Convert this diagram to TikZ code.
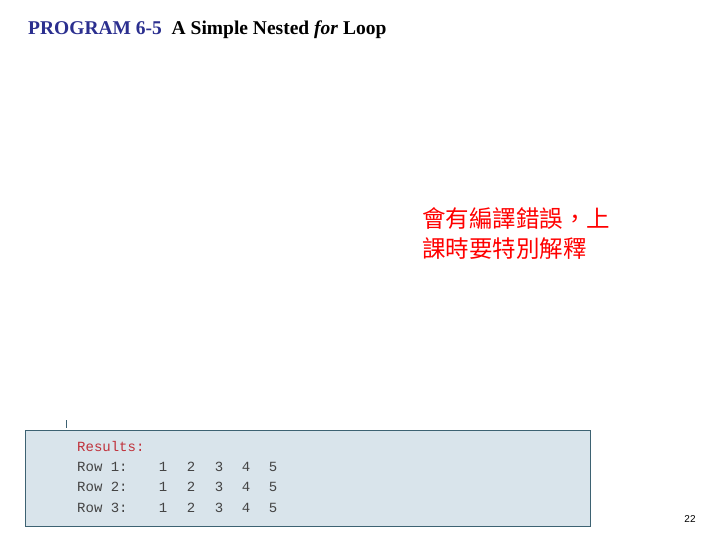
\documentclass[tikz,border=0pt]{standalone}
\usepackage{fontspec}
\setmainfont{Liberation Serif}
\newfontfamily\monof{Liberation Mono}
\newfontfamily\cjk{Noto Sans CJK TC}
\newfontfamily\sansf{Liberation Sans}
\definecolor{titleblue}{HTML}{2B2F8F}
\definecolor{boxfill}{HTML}{D9E4EB}
\definecolor{boxline}{HTML}{3D6272}
\definecolor{resred}{HTML}{C0303A}
\definecolor{mono}{HTML}{444444}
\begin{document}
\begin{tikzpicture}[x=1pt,y=-1pt,
  mt/.style={anchor=base west,inner sep=0pt,font=\monof\fontsize{14}{14}\selectfont,text=mono},
  num/.style={anchor=base,inner sep=0pt,font=\monof\fontsize{14}{14}\selectfont,text=mono}]
\useasboundingbox (0,0) rectangle (720,540);
\node[anchor=base west,inner sep=0pt,font=\bfseries\fontsize{19.5}{20}\selectfont] (title) at (28,35)
  {\textcolor{titleblue}{PROGRAM 6-5}\ \ A Simple Nested \textit{for} Loop};
\node[anchor=base west,inner sep=0pt,align=left,text=red,font=\cjk\fontsize{23.5}{30}\selectfont] (note) at (422,257)
  {會有編譯錯誤，上\\課時要特別解釋};
\draw[boxline] (66,420) -- (66,428);
\node[draw=boxline,line width=1.2pt,fill=boxfill,minimum width=565pt,minimum height=96pt,anchor=north west,inner sep=0pt] (box) at (25,430) {};
\node[mt,text=resred] (res) at (77,451) {Results:};
\foreach \r/\y in {1/471,2/491,3/512}{
  \node[mt] (row\r) at (77,\y) {Row \r:};
  \foreach \n/\x in {1/163,2/191,3/219,4/246,5/273}{
    \node[num] (n\r\n) at (\x,\y) {\n};
  }
}
\node[anchor=base,inner sep=0pt,font=\sansf\fontsize{10}{10}\selectfont] (page) at (690,522) {22};
\end{tikzpicture}
\end{document}
